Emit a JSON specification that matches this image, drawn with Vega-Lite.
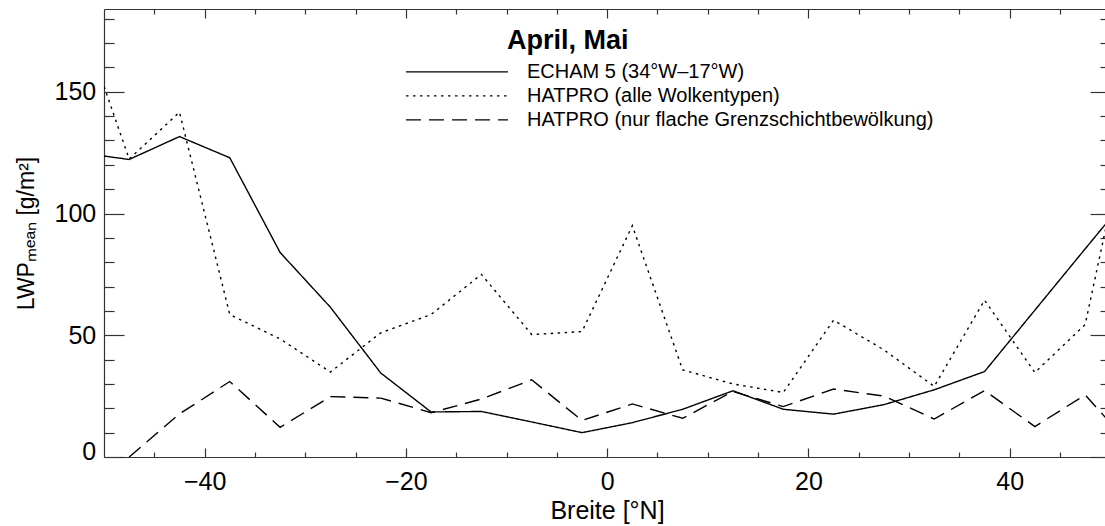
{
  "$schema": "https://vega.github.io/schema/vega-lite/v6.json",
  "width": 1001,
  "height": 448,
  "autosize": {"type": "none"},
  "padding": {"left": 104, "top": 9, "right": 0, "bottom": 69},
  "background": "white",
  "config": {
    "view": {"stroke": null},
    "font": "Liberation Sans",
    "axis": {"domainColor": "#333", "tickColor": "#333", "domainWidth": 1.2, "tickWidth": 1.2, "grid": false, "labelColor": "black", "titleColor": "black", "labelOverlap": false, "labelBound": false}
  },
  "title": {
    "text": "April, Mai",
    "anchor": "start",
    "frame": "group",
    "dx": 403,
    "dy": 68,
    "offset": 0,
    "baseline": "alphabetic",
    "font": "Liberation Sans",
    "fontSize": 27,
    "fontWeight": "bold",
    "color": "black"
  },
  "data": {
    "values": [
      {"lat": -52.5, "lwp": 125.0, "series": "ECHAM 5 (34°W–17°W)"},
      {"lat": -47.5, "lwp": 122.2, "series": "ECHAM 5 (34°W–17°W)"},
      {"lat": -42.5, "lwp": 131.6, "series": "ECHAM 5 (34°W–17°W)"},
      {"lat": -37.5, "lwp": 122.9, "series": "ECHAM 5 (34°W–17°W)"},
      {"lat": -32.5, "lwp": 84.0, "series": "ECHAM 5 (34°W–17°W)"},
      {"lat": -27.5, "lwp": 61.5, "series": "ECHAM 5 (34°W–17°W)"},
      {"lat": -22.5, "lwp": 34.5, "series": "ECHAM 5 (34°W–17°W)"},
      {"lat": -17.5, "lwp": 18.5, "series": "ECHAM 5 (34°W–17°W)"},
      {"lat": -12.5, "lwp": 18.7, "series": "ECHAM 5 (34°W–17°W)"},
      {"lat": -7.5, "lwp": 14.4, "series": "ECHAM 5 (34°W–17°W)"},
      {"lat": -2.5, "lwp": 10.0, "series": "ECHAM 5 (34°W–17°W)"},
      {"lat": 2.5, "lwp": 14.1, "series": "ECHAM 5 (34°W–17°W)"},
      {"lat": 7.5, "lwp": 19.6, "series": "ECHAM 5 (34°W–17°W)"},
      {"lat": 12.5, "lwp": 27.2, "series": "ECHAM 5 (34°W–17°W)"},
      {"lat": 17.5, "lwp": 19.6, "series": "ECHAM 5 (34°W–17°W)"},
      {"lat": 22.5, "lwp": 17.6, "series": "ECHAM 5 (34°W–17°W)"},
      {"lat": 27.5, "lwp": 21.5, "series": "ECHAM 5 (34°W–17°W)"},
      {"lat": 32.5, "lwp": 27.6, "series": "ECHAM 5 (34°W–17°W)"},
      {"lat": 37.5, "lwp": 35.1, "series": "ECHAM 5 (34°W–17°W)"},
      {"lat": 42.5, "lwp": 60.3, "series": "ECHAM 5 (34°W–17°W)"},
      {"lat": 47.5, "lwp": 85.5, "series": "ECHAM 5 (34°W–17°W)"},
      {"lat": 52.5, "lwp": 110.5, "series": "ECHAM 5 (34°W–17°W)"},
      {"lat": -52.5, "lwp": 182.0, "series": "HATPRO (alle Wolkentypen)"},
      {"lat": -47.5, "lwp": 122.4, "series": "HATPRO (alle Wolkentypen)"},
      {"lat": -42.5, "lwp": 141.6, "series": "HATPRO (alle Wolkentypen)"},
      {"lat": -37.5, "lwp": 58.5, "series": "HATPRO (alle Wolkentypen)"},
      {"lat": -32.5, "lwp": 48.5, "series": "HATPRO (alle Wolkentypen)"},
      {"lat": -27.5, "lwp": 34.9, "series": "HATPRO (alle Wolkentypen)"},
      {"lat": -22.5, "lwp": 51.0, "series": "HATPRO (alle Wolkentypen)"},
      {"lat": -17.5, "lwp": 58.5, "series": "HATPRO (alle Wolkentypen)"},
      {"lat": -12.5, "lwp": 75.0, "series": "HATPRO (alle Wolkentypen)"},
      {"lat": -7.5, "lwp": 50.3, "series": "HATPRO (alle Wolkentypen)"},
      {"lat": -2.5, "lwp": 51.5, "series": "HATPRO (alle Wolkentypen)"},
      {"lat": 2.5, "lwp": 95.0, "series": "HATPRO (alle Wolkentypen)"},
      {"lat": 7.5, "lwp": 35.8, "series": "HATPRO (alle Wolkentypen)"},
      {"lat": 12.5, "lwp": 30.0, "series": "HATPRO (alle Wolkentypen)"},
      {"lat": 17.5, "lwp": 26.5, "series": "HATPRO (alle Wolkentypen)"},
      {"lat": 22.5, "lwp": 56.2, "series": "HATPRO (alle Wolkentypen)"},
      {"lat": 27.5, "lwp": 44.0, "series": "HATPRO (alle Wolkentypen)"},
      {"lat": 32.5, "lwp": 29.0, "series": "HATPRO (alle Wolkentypen)"},
      {"lat": 37.5, "lwp": 64.4, "series": "HATPRO (alle Wolkentypen)"},
      {"lat": 42.5, "lwp": 34.7, "series": "HATPRO (alle Wolkentypen)"},
      {"lat": 47.5, "lwp": 54.4, "series": "HATPRO (alle Wolkentypen)"},
      {"lat": 52.5, "lwp": 151.0, "series": "HATPRO (alle Wolkentypen)"},
      {"lat": -47.5, "lwp": 0.0, "series": "HATPRO (nur flache Grenzschichtbewölkung)"},
      {"lat": -42.5, "lwp": 17.7, "series": "HATPRO (nur flache Grenzschichtbewölkung)"},
      {"lat": -37.5, "lwp": 31.0, "series": "HATPRO (nur flache Grenzschichtbewölkung)"},
      {"lat": -32.5, "lwp": 12.2, "series": "HATPRO (nur flache Grenzschichtbewölkung)"},
      {"lat": -27.5, "lwp": 24.8, "series": "HATPRO (nur flache Grenzschichtbewölkung)"},
      {"lat": -22.5, "lwp": 24.2, "series": "HATPRO (nur flache Grenzschichtbewölkung)"},
      {"lat": -17.5, "lwp": 18.2, "series": "HATPRO (nur flache Grenzschichtbewölkung)"},
      {"lat": -12.5, "lwp": 23.8, "series": "HATPRO (nur flache Grenzschichtbewölkung)"},
      {"lat": -7.5, "lwp": 31.7, "series": "HATPRO (nur flache Grenzschichtbewölkung)"},
      {"lat": -2.5, "lwp": 15.0, "series": "HATPRO (nur flache Grenzschichtbewölkung)"},
      {"lat": 2.5, "lwp": 21.8, "series": "HATPRO (nur flache Grenzschichtbewölkung)"},
      {"lat": 7.5, "lwp": 15.9, "series": "HATPRO (nur flache Grenzschichtbewölkung)"},
      {"lat": 12.5, "lwp": 26.9, "series": "HATPRO (nur flache Grenzschichtbewölkung)"},
      {"lat": 17.5, "lwp": 20.7, "series": "HATPRO (nur flache Grenzschichtbewölkung)"},
      {"lat": 22.5, "lwp": 27.9, "series": "HATPRO (nur flache Grenzschichtbewölkung)"},
      {"lat": 27.5, "lwp": 25.0, "series": "HATPRO (nur flache Grenzschichtbewölkung)"},
      {"lat": 32.5, "lwp": 15.6, "series": "HATPRO (nur flache Grenzschichtbewölkung)"},
      {"lat": 37.5, "lwp": 27.3, "series": "HATPRO (nur flache Grenzschichtbewölkung)"},
      {"lat": 42.5, "lwp": 12.5, "series": "HATPRO (nur flache Grenzschichtbewölkung)"},
      {"lat": 47.5, "lwp": 25.5, "series": "HATPRO (nur flache Grenzschichtbewölkung)"},
      {"lat": 52.5, "lwp": 2.5, "series": "HATPRO (nur flache Grenzschichtbewölkung)"}
    ]
  },
  "layer": [
    {
      "mark": {"type": "line", "clip": true, "strokeWidth": 1.4, "color": "black"},
      "encoding": {
        "x": {"field": "lat", "type": "quantitative", "scale": {"domain": [-50, 49.47], "nice": false, "zero": false},
          "axis": {"orient": "bottom", "offset": -9, "values": [-40, -20, 0, 20, 40], "tickSize": 9, "domain": false, "labelPadding": 12.8, "labelFontSize": 25, "labelFlush": false, "format": "d",
            "title": "Breite [°N]", "titleFontSize": 25, "titleFontWeight": "normal", "titleX": 503, "titleY": 70.3, "titleBaseline": "alphabetic", "titleAlign": "center"}},
        "y": {"field": "lwp", "type": "quantitative", "scale": {"domain": [0, 184], "nice": false, "zero": false},
          "axis": {"orient": "left", "offset": -20, "values": [0, 50, 100, 150], "tickSize": 20, "domain": false, "labelPadding": 8.3, "labelFontSize": 25, "labelFlush": false, "format": "d",
            "labelOffset": {"condition": {"test": "datum.value == 0", "value": -6}, "value": 0},
            "title": "LWPₘₑₐₙ [g/m²]", "titleFontSize": 23, "titleFontWeight": "normal", "titleX": -91, "titleY": 224, "titleBaseline": "alphabetic", "titleAngle": -90, "titleAlign": "center"}},
        "strokeDash": {"field": "series", "type": "nominal",
          "scale": {"domain": ["ECHAM 5 (34°W–17°W)", "HATPRO (alle Wolkentypen)", "HATPRO (nur flache Grenzschichtbewölkung)"], "range": [[1, 0], [2.5, 4.5], [15, 8]]},
          "legend": {"orient": "none", "legendX": 301, "legendY": 51, "title": null, "symbolType": "stroke", "symbolSize": 10404, "symbolStrokeWidth": 1.4, "symbolStrokeColor": "black",
            "labelFont": "Liberation Sans", "labelFontSize": 20, "labelColor": "black", "labelOffset": 18, "labelLimit": 700, "clipHeight": 23.7, "rowPadding": 0, "padding": 0}}
      }
    },
    {
      "mark": {"type": "point", "opacity": 0, "clip": true},
      "encoding": {
        "x": {"field": "lat", "type": "quantitative", "scale": {"domain": [-50, 49.47], "nice": false, "zero": false},
          "axis": {"orient": "bottom", "offset": -5, "values": [-45, -35, -30, -25, -15, -10, -5, 5, 10, 15, 25, 30, 35, 45], "tickSize": 5, "labels": false, "domain": false, "title": null}},
        "y": {"field": "lwp", "type": "quantitative", "scale": {"domain": [0, 184], "nice": false, "zero": false},
          "axis": {"orient": "left", "offset": -10, "values": [10, 20, 30, 40, 60, 70, 80, 90, 110, 120, 130, 140, 160, 170, 180], "tickSize": 10, "labels": false, "domain": false, "title": null}}
      }
    },
    {
      "mark": {"type": "point", "opacity": 0, "clip": true},
      "encoding": {
        "x": {"field": "lat", "type": "quantitative", "scale": {"domain": [-50, 49.47], "nice": false, "zero": false},
          "axis": {"orient": "top", "offset": -9, "values": [-40, -20, 0, 20, 40], "tickSize": 9, "labels": false, "domain": false, "title": null}},
        "y": {"field": "lwp", "type": "quantitative", "scale": {"domain": [0, 184], "nice": false, "zero": false},
          "axis": {"orient": "right", "offset": -15, "values": [0, 50, 100, 150], "tickSize": 15, "labels": false, "domain": false, "title": null}}
      }
    },
    {
      "mark": {"type": "point", "opacity": 0, "clip": true},
      "encoding": {
        "x": {"field": "lat", "type": "quantitative", "scale": {"domain": [-50, 49.47], "nice": false, "zero": false},
          "axis": {"orient": "top", "offset": -5, "values": [-45, -35, -30, -25, -15, -10, -5, 5, 10, 15, 25, 30, 35, 45], "tickSize": 5, "labels": false, "domain": false, "title": null}},
        "y": {"field": "lwp", "type": "quantitative", "scale": {"domain": [0, 184], "nice": false, "zero": false},
          "axis": {"orient": "right", "offset": -5, "values": [10, 20, 30, 40, 60, 70, 80, 90, 110, 120, 130, 140, 160, 170, 180], "tickSize": 5, "labels": false, "domain": false, "title": null}}
      }
    },
    {
      "mark": {"type": "point", "opacity": 0, "clip": true},
      "encoding": {
        "x": {"field": "lat", "type": "quantitative", "scale": {"domain": [-50, 49.47], "nice": false, "zero": false},
          "axis": {"orient": "bottom", "ticks": false, "labels": false, "domain": true, "title": null}},
        "y": {"field": "lwp", "type": "quantitative", "scale": {"domain": [0, 184], "nice": false, "zero": false},
          "axis": {"orient": "left", "ticks": false, "labels": false, "domain": true, "title": null}}
      }
    },
    {
      "mark": {"type": "point", "opacity": 0, "clip": true},
      "encoding": {
        "x": {"field": "lat", "type": "quantitative", "scale": {"domain": [-50, 49.47], "nice": false, "zero": false},
          "axis": {"orient": "top", "ticks": false, "labels": false, "domain": true, "title": null}},
        "y": {"field": "lwp", "type": "quantitative", "scale": {"domain": [0, 184], "nice": false, "zero": false}, "axis": null}
      }
    }
  ],
  "resolve": {"axis": {"x": "independent", "y": "independent"}}
}
